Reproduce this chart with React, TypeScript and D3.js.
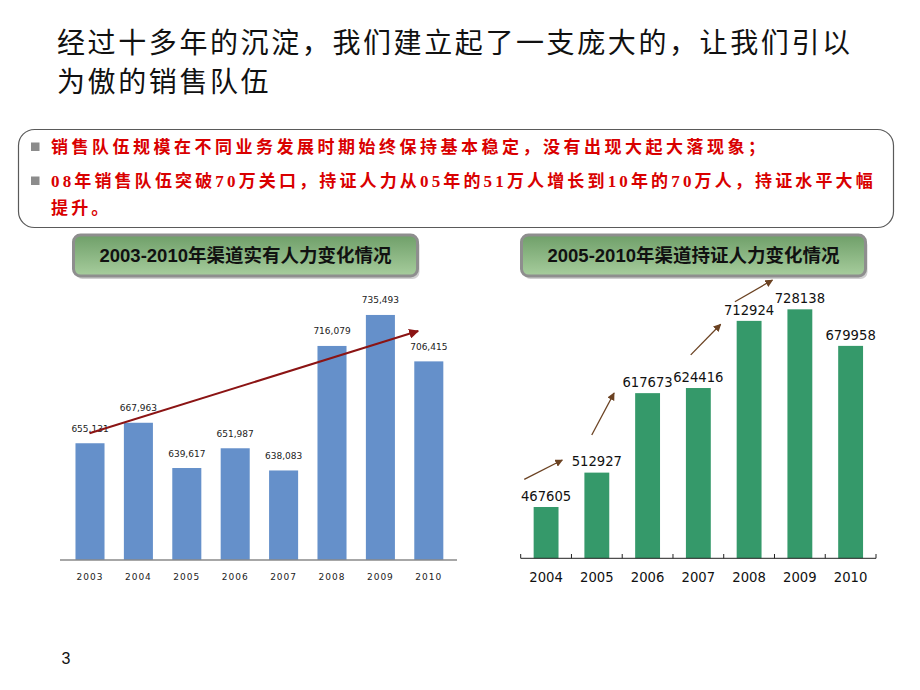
import React from "react";
import * as d3 from "d3";

const titleLines = ["经过十多年的沉淀，我们建立起了一支庞大的，让我们引以", "为傲的销售队伍"];
const bulletLines = [
  "销售队伍规模在不同业务发展时期始终保持基本稳定，没有出现大起大落现象；",
  "08年销售队伍突破70万关口，持证人力从05年的51万人增长到10年的70万人，持证水平大幅",
  "提升。",
];

const leftTitle = "2003-2010年渠道实有人力变化情况";
const leftYears = ["2003", "2004", "2005", "2006", "2007", "2008", "2009", "2010"];
const leftValues = [655131, 667963, 639617, 651987, 638083, 716079, 735493, 706415];
// trend arrow in (category index, value) space
const leftTrend: [number, number][] = [[-0.01, 661356], [6.78, 725430]];

const rightTitle = "2005-2010年渠道持证人力变化情况";
const rightYears = ["2004", "2005", "2006", "2007", "2008", "2009", "2010"];
const rightValues = [467605, 512927, 617673, 624416, 712924, 728138, 679958];
const rightArrows: [number, number, number, number][] = [
  [-0.43, 504113, 0.32, 529547],
  [0.9, 562493, 1.34, 617849],
  [2.85, 668160, 3.44, 708400],
  [3.72, 738180, 4.46, 766740],
];

const CJK = "'Noto Sans CJK SC', 'Noto Sans', sans-serif";

function Header({ x, y, w, h, text, id }: { x: number; y: number; w: number; h: number; text: string; id: string }) {
  return (
    <g>
      <defs>
        <linearGradient id={id} x1="0" y1="0" x2="0" y2="1">
          <stop offset="0" stopColor="#6f9f69" />
          <stop offset="1" stopColor="#a7cd9d" />
        </linearGradient>
      </defs>
      <rect x={x + 2} y={y + 3} width={w} height={h} rx={7} fill="#d0d0d0" />
      <rect x={x} y={y} width={w} height={h} rx={7} fill={`url(#${id})`} stroke="#8e8e8e" strokeWidth={3} />
      <text
        x={x + w / 2}
        y={y + h / 2 + 6.5}
        textAnchor="middle"
        fontFamily={`'Liberation Sans', Arial, ${CJK}`}
        fontWeight="bold"
        fontSize={18.5}
        fill="#111"
      >
        {text}
      </text>
    </g>
  );
}

export default function App() {
  // Left chart scales
  const lx = d3.scaleBand<string>().domain(leftYears).range([65.8, 453]).padding(0);
  const lbw = lx.bandwidth();
  const ly = d3.scaleLinear().domain([582000, 780000]).range([560, 243.9]);
  const lIdx = (i: number) => (lx.range()[0] as number) + lbw * (i + 0.5);
  const fmt = d3.format(",");

  // Right chart scales
  const rx = d3.scaleBand<string>().domain(rightYears).range([520.7, 876]).padding(0);
  const rbw = rx.bandwidth();
  const ry = d3.scaleLinear().domain([400000, 800000]).range([558.3, 254.8]);
  const rIdx = (i: number) => 520.7 + rbw * (i + 0.5);

  return (
    <svg
      width={920}
      height={690}
      viewBox="0 0 920 690"
      style={{ position: "absolute", left: 0, top: 0, background: "#fff" }}
    >
      <defs>
        <marker id="redHead" viewBox="0 0 10 10" refX="9" refY="5" markerWidth="5" markerHeight="5" orient="auto">
          <path d="M0,0 L10,5 L0,10 z" fill="#8b1414" />
        </marker>
        <marker id="brownHead" viewBox="0 0 10 10" refX="9" refY="5" markerWidth="6" markerHeight="6" orient="auto">
          <path d="M0,0 L10,5 L0,10 z" fill="#6b4222" />
        </marker>
      </defs>
      <rect x={0} y={0} width={920} height={690} fill="#fff" />

      {/* Title */}
      {titleLines.map((t, i) => (
        <text key={i} x={57} y={53 + i * 38.5} fontFamily={CJK} fontSize={28} letterSpacing={2.6} fill="#111">
          {t}
        </text>
      ))}

      {/* Callout box */}
      <rect x={18.5} y={129.5} width={875} height={98} rx={16} fill="#fff" stroke="#5a5a5a" strokeWidth={1.2} />
      <rect x={31} y={142.5} width={8.5} height={8.5} fill="#8c8c8c" />
      <rect x={31} y={176.5} width={8.5} height={8.5} fill="#8c8c8c" />
      {bulletLines.map((t, i) => (
        <text
          key={i}
          x={51}
          y={[152.5, 187, 214][i]}
          fontFamily={`'Liberation Serif', ${CJK}`}
          fontWeight="bold"
          fontSize={17}
          letterSpacing={i === 0 ? 3.5 : 3.15}
          fill="#d90000"
        >
          {t}
        </text>
      ))}

      {/* Headers */}
      <Header x={73.5} y={235} w={344} h={41} text={leftTitle} id="gL" />
      <Header x={521.5} y={235} w={344} h={41} text={rightTitle} id="gR" />

      {/* Left chart */}
      <g>
        {leftYears.map((yr, i) => {
          const cx = (lx(yr) as number) + lbw / 2;
          const v = leftValues[i];
          const bw = lbw * 0.6;
          return (
            <g key={yr}>
              <rect x={cx - bw / 2} y={ly(v)} width={bw} height={560 - ly(v)} fill="#6590ca" />
              <text
                x={cx}
                y={ly(v) - 11.5}
                textAnchor="middle"
                fontFamily="'DejaVu Sans', sans-serif"
                fontSize={9}
                fill="#222"
              >
                {fmt(v)}
              </text>
              <text
                x={cx}
                y={580}
                textAnchor="middle"
                fontFamily="'DejaVu Sans', sans-serif"
                fontSize={9}
                letterSpacing={1}
                fill="#222"
              >
                {yr}
              </text>
            </g>
          );
        })}
        <line x1={60} x2={457} y1={560} y2={560} stroke="#8a8a8a" strokeWidth={1.5} />
        <line
          x1={lIdx(leftTrend[0][0])}
          y1={ly(leftTrend[0][1])}
          x2={lIdx(leftTrend[1][0])}
          y2={ly(leftTrend[1][1])}
          stroke="#8b1414"
          strokeWidth={2}
          markerEnd="url(#redHead)"
        />
      </g>

      {/* Right chart */}
      <g>
        {rightYears.map((yr, i) => {
          const cx = (rx(yr) as number) + rbw / 2;
          const v = rightValues[i];
          const bw = rbw * 0.49;
          return (
            <g key={yr}>
              <rect x={cx - bw / 2} y={ry(v)} width={bw} height={558.3 - ry(v)} fill="#35996a" />
              <text
                x={cx}
                y={ry(v) - 6.3}
                textAnchor="middle"
                fontFamily="'DejaVu Sans', sans-serif"
                fontSize={13.2}
                fill="#111"
              >
                {v}
              </text>
              <text
                x={cx}
                y={582}
                textAnchor="middle"
                fontFamily="'DejaVu Sans', sans-serif"
                fontSize={13.2}
                fill="#111"
              >
                {yr}
              </text>
            </g>
          );
        })}
        <line x1={520.7} x2={876} y1={558.3} y2={558.3} stroke="#222" strokeWidth={1} />
        {d3.range(rightYears.length + 1).map((i) => {
          const x = 520.7 + rbw * i;
          return <line key={i} x1={x} x2={x} y1={558.3} y2={554} stroke="#222" strokeWidth={1} />;
        })}
        {rightArrows.map((a, i) => (
          <line
            key={i}
            x1={rIdx(a[0])}
            y1={ry(a[1])}
            x2={rIdx(a[2])}
            y2={ry(a[3])}
            stroke="#6b4222"
            strokeWidth={1.3}
            markerEnd="url(#brownHead)"
          />
        ))}
      </g>

      {/* Page number */}
      <text x={66} y={663.5} textAnchor="middle" fontFamily="'Liberation Sans', Arial, sans-serif" fontSize={16} fill="#111">
        3
      </text>
    </svg>
  );
}
